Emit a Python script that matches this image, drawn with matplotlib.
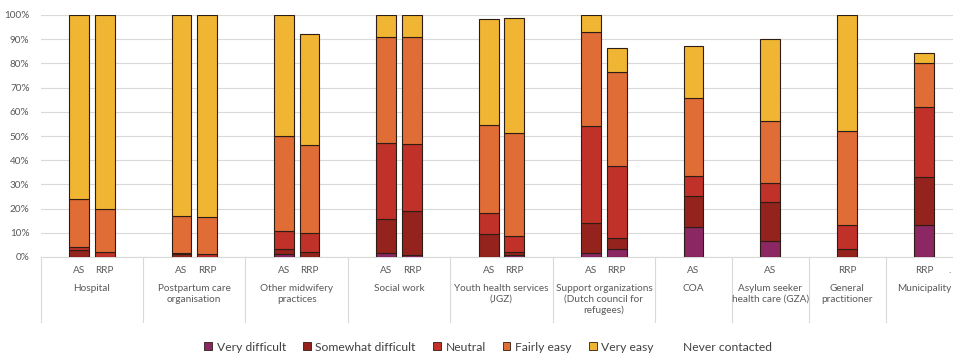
import matplotlib
matplotlib.use("Agg")
import matplotlib.pyplot as plt
from matplotlib.patches import Patch
from matplotlib.ticker import PercentFormatter

plt.rcParams["font.family"] = ["Lato", "DejaVu Sans"]

# groups on the category axis and the bars inside each group
groups = [
    "Hospital",
    "Postpartum care\norganisation",
    "Other midwifery\npractices",
    "Social work",
    "Youth health services\n(JGZ)",
    "Support organizations\n(Dutch council for\nrefugees)",
    "COA",
    "Asylum seeker\nhealth care (GZA)",
    "General\npractitioner",
    "Municipality",
]
group_bars = [
    ["AS", "RRP"], ["AS", "RRP"], ["AS", "RRP"], ["AS", "RRP"], ["AS", "RRP"],
    ["AS", "RRP"], ["AS"], ["AS"], ["RRP"], ["RRP"],
]

# shares in %, one value per bar (16 bars, in group order)
very_difficult = [0, 0, 0, 0, 1.2, 0, 1.5, 1.0, 0, 1.0, 1.5, 3.2, 12.3, 6.7, 0, 13.1]
somewhat_difficult = [3.0, 0, 1.2, 0, 2.0, 1.9, 14.1, 17.9, 9.5, 0.9, 12.4, 4.5, 12.8, 15.9, 3.2, 19.8]
neutral = [1.3, 2.0, 0.3, 1.1, 7.5, 7.9, 31.4, 27.7, 8.5, 6.8, 40.2, 29.9, 8.5, 8.1, 9.9, 28.9]
fairly_easy = [19.7, 18.0, 15.3, 15.3, 39.2, 36.6, 44.0, 44.4, 36.7, 42.4, 38.7, 39.0, 32.2, 25.4, 38.8, 18.2]
very_easy = [76.0, 80.0, 83.2, 83.6, 50.1, 45.6, 9.0, 9.0, 43.6, 47.5, 7.2, 9.9, 21.3, 33.8, 48.1, 4.2]

series = [
    ("Very difficult", very_difficult, "#8b2762"),
    ("Somewhat difficult", somewhat_difficult, "#94231e"),
    ("Neutral", neutral, "#c0312a"),
    ("Fairly easy", fairly_easy, "#e06c36"),
    ("Very easy", very_easy, "#f0b532"),
]

# category slots: two-bar groups take 4 slots, single-bar groups 3
xs, bar_labels, seps = [], [], [0]
pos = 0
for bars in group_bars:
    n = len(bars) + 2
    for i, b in enumerate(bars):
        xs.append(pos + 1 + i + 0.5)
        bar_labels.append(b)
    pos += n
    seps.append(pos)

fig = plt.figure(figsize=(9.54, 3.55), dpi=100)
ax = fig.add_axes([40.7 / 954, 98 / 355, 913.3 / 954, 242 / 355])

bottom = [0.0] * len(xs)
for name, vals, col in series:
    px = [x for x, v in zip(xs, vals) if v > 0]
    pv = [v / 100 for v in vals if v > 0]
    pb = [b for b, v in zip(bottom, vals) if v > 0]
    ax.bar(px, pv, bottom=pb, width=0.78, color=col, edgecolor="#2e1d14",
           linewidth=0.8, zorder=3)
    bottom = [b + v / 100 for b, v in zip(bottom, vals)]

ax.set_xlim(0, (954 - 40.7) / 25.6)
ax.set_ylim(0, 1)
ax.set_yticks([i / 10 for i in range(11)])
ax.yaxis.set_major_formatter(PercentFormatter(1.0, decimals=0))
ax.tick_params(axis="y", length=0, pad=8, labelsize=7.2, labelcolor="#595959")
ax.set_xticks([])
ax.grid(axis="y", color="#d9d9d9", linewidth=0.8, zorder=0)
for s in ["left", "right", "top"]:
    ax.spines[s].set_visible(False)
ax.spines["bottom"].set_color("#d9d9d9")

tr = ax.get_xaxis_transform()
for x, lab in zip(xs, bar_labels):
    ax.text(x, -0.056, lab, transform=tr, ha="center", va="center",
            fontsize=7.2, color="#595959")
ax.text(35.5, -0.056, ".", transform=tr, ha="center", va="center",
        fontsize=7.2, color="#595959")

for i, g in enumerate(groups):
    mid = (seps[i] + seps[i + 1]) / 2
    ax.text(mid, -0.112, g, transform=tr, ha="center", va="top",
            fontsize=7.2, color="#595959", linespacing=1.25)

for s in seps:
    ax.plot([s, s], [0, -0.27], transform=tr, color="#d9d9d9",
            linewidth=0.8, clip_on=False)

handles = [Patch(facecolor=c, edgecolor="#2e1d14", linewidth=0.6, label=n)
           for n, _, c in series]
handles.append(Patch(facecolor="none", edgecolor="none", label="Never contacted"))
fig.legend(handles=handles, loc="center", bbox_to_anchor=(0.512, 0.0225),
           ncol=6, frameon=False, fontsize=8.7, handlelength=0.6,
           handleheight=0.6, handletextpad=0.4, columnspacing=1.45,
           labelcolor="#404040")

fig.savefig("out.png", dpi=100)
